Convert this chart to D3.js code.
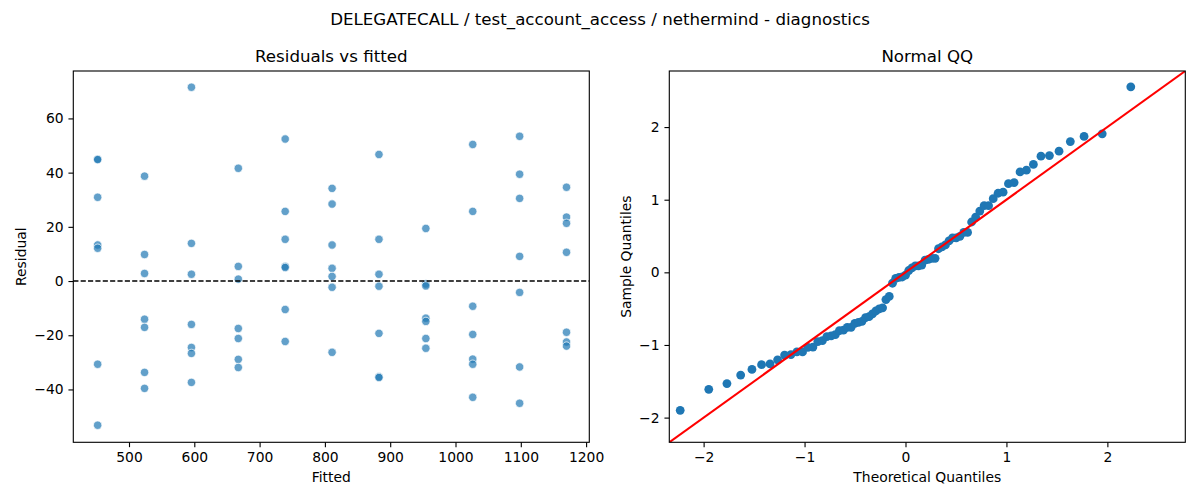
<!DOCTYPE html>
<html>
<head>
<meta charset="utf-8">
<script src="https://cdn.jsdelivr.net/npm/d3@7"></script>
<style>
  html, body { margin: 0; padding: 0; background: #fff; }
  svg { display: block; font-family: "DejaVu Sans", sans-serif; }
</style>
</head>
<body>
<svg id="chart" width="1200" height="500"></svg>
<script>
// ---------------- data ----------------
const suptitle = "DELEGATECALL / test_account_access / nethermind - diagnostics";
const leftTitle = "Residuals vs fitted";
const rightTitle = "Normal QQ";

const fittedLevels = [452, 523.8, 595.6, 667.4, 739.2, 811, 882.8, 954.6, 1026.4, 1098.2, 1170];
const residualGroups = [
  [45.0, 44.8, 30.9, 13.3, 12.1, -30.7, -53.2],
  [38.7, 9.8, 2.8, -14.1, -17.1, -33.7, -39.6],
  [71.5, 13.9, 2.5, -16.0, -24.5, -26.7, -37.4],
  [41.6, 5.4, 0.7, -17.5, -21.2, -28.9, -31.9],
  [52.4, 25.7, 15.4, 5.4, 5.0, -10.5, -22.3],
  [34.2, 28.4, 13.3, 4.7, 1.7, -2.3, -26.3],
  [46.7, 15.4, 2.5, -1.9, -19.3, -35.3, -35.6],
  [19.4, -1.1, -1.8, -13.7, -14.9, -21.2, -24.8],
  [50.4, 25.7, -9.3, -19.7, -28.8, -30.7, -42.9],
  [53.4, 39.4, 30.5, 9.1, -4.2, -31.7, -45.1],
  [34.6, 23.6, 21.3, 10.6, -18.9, -22.5, -24.0]
];
const fittedTicks = [500, 600, 700, 800, 900, 1000, 1100, 1200];
const residualTicks = [-40, -20, 0, 20, 40, 60];

const qqTheoretical = [
  -2.232, -1.949, -1.769, -1.633, -1.521, -1.426, -1.342, -1.267, -1.198, -1.135,
  -1.076, -1.020, -0.967, -0.917, -0.869, -0.823, -0.779, -0.736, -0.695, -0.655,
  -0.615, -0.577, -0.539, -0.502, -0.466, -0.431, -0.396, -0.361, -0.327, -0.293,
  -0.260, -0.227, -0.194, -0.161, -0.129, -0.097, -0.064, -0.032, 0.000,
  0.032, 0.064, 0.097, 0.129, 0.161, 0.194, 0.227, 0.260, 0.293, 0.327,
  0.361, 0.396, 0.431, 0.466, 0.502, 0.539, 0.577, 0.615, 0.655, 0.695,
  0.736, 0.779, 0.823, 0.869, 0.917, 0.967, 1.020, 1.076, 1.135, 1.198,
  1.267, 1.342, 1.426, 1.521, 1.633, 1.769, 1.949, 2.232
];
const qqSample = [
  -1.900, -1.611, -1.532, -1.414, -1.336, -1.271, -1.261, -1.204, -1.139, -1.132,
  -1.096, -1.096, -1.032, -1.029, -0.954, -0.939, -0.886, -0.875, -0.857, -0.804,
  -0.796, -0.757, -0.757, -0.704, -0.689, -0.675, -0.625, -0.611, -0.571, -0.532,
  -0.504, -0.489, -0.375, -0.332, -0.150, -0.082, -0.068, -0.064, -0.039,
  0.025, 0.061, 0.089, 0.089, 0.100, 0.168, 0.179, 0.193, 0.193, 0.325,
  0.350, 0.379, 0.432, 0.475, 0.475, 0.496, 0.550, 0.550, 0.693, 0.761,
  0.843, 0.918, 0.918, 1.014, 1.089, 1.104, 1.221, 1.236, 1.382, 1.407,
  1.486, 1.600, 1.607, 1.668, 1.800, 1.871, 1.907, 2.554
];
const qqTicks = [-2, -1, 0, 1, 2];
const qqDomain = [-2.34, 2.772];

// ---------------- layout ----------------
const svg = d3.select("#chart");
const fmt = v => (v < 0 ? "\u2212" + Math.abs(v) : String(v));
const axTop = 71, axBottom = 442.3;
const L = { x0: 73.3, x1: 589.3 };
const R = { x0: 669.3, x1: 1185.3 };
const tickLen = 4.86, tickPad = 4.86;
const fsTitle = 16.67, fsTick = 13.89;

svg.append("text")
  .attr("x", 600).attr("y", 25)
  .attr("text-anchor", "middle")
  .attr("font-size", fsTitle).attr("fill", "#000")
  .text(suptitle);

function drawAxes(g, x, y, xTicks, yTicks, box, title, xLabel, yLabel, yLabelX) {
  g.append("rect")
    .attr("x", box.x0).attr("y", axTop)
    .attr("width", box.x1 - box.x0).attr("height", axBottom - axTop)
    .attr("fill", "none").attr("stroke", "#000").attr("stroke-width", 1.11);
  const xt = g.append("g").attr("transform", `translate(0,${axBottom})`)
    .call(d3.axisBottom(x).tickValues(xTicks).tickFormat(fmt).tickSizeOuter(0)
      .tickSize(tickLen).tickPadding(tickPad));
  xt.select(".domain").remove();
  xt.selectAll("line").attr("stroke", "#000").attr("stroke-width", 1.11);
  xt.selectAll("text").attr("font-size", fsTick).attr("fill", "#000")
    .attr("font-family", "DejaVu Sans, sans-serif");
  const yt = g.append("g").attr("transform", `translate(${box.x0},0)`)
    .call(d3.axisLeft(y).tickValues(yTicks).tickFormat(fmt).tickSizeOuter(0)
      .tickSize(tickLen).tickPadding(tickPad));
  yt.select(".domain").remove();
  yt.selectAll("line").attr("stroke", "#000").attr("stroke-width", 1.11);
  yt.selectAll("text").attr("font-size", fsTick).attr("fill", "#000")
    .attr("font-family", "DejaVu Sans, sans-serif");
  g.append("text")
    .attr("x", (box.x0 + box.x1) / 2).attr("y", 62)
    .attr("text-anchor", "middle").attr("font-size", fsTitle).attr("fill", "#000")
    .text(title);
  g.append("text")
    .attr("x", (box.x0 + box.x1) / 2).attr("y", 482)
    .attr("text-anchor", "middle").attr("font-size", fsTick).attr("fill", "#000")
    .text(xLabel);
  g.append("text")
    .attr("transform", `translate(${yLabelX},${(axTop + axBottom) / 2}) rotate(-90)`)
    .attr("text-anchor", "middle").attr("font-size", fsTick).attr("fill", "#000")
    .text(yLabel);
}

// ---------------- left: residuals vs fitted ----------------
const xL = d3.scaleLinear().domain([414.7, 1204.9]).range([L.x0, L.x1]);
const yL = d3.scaleLinear().domain([-59.5, 77.5]).range([axBottom, axTop]);
const gL = svg.append("g");

const points = [];
fittedLevels.forEach((f, i) => residualGroups[i].forEach(r => points.push({ f, r })));

svg.append("clipPath").attr("id", "clipL")
  .append("rect").attr("x", L.x0).attr("y", axTop)
  .attr("width", L.x1 - L.x0).attr("height", axBottom - axTop);

gL.append("g").attr("clip-path", "url(#clipL)")
  .selectAll("circle").data(points).join("circle")
  .attr("cx", d => xL(d.f)).attr("cy", d => yL(d.r))
  .attr("r", 4.2)
  .attr("fill", "#1f77b4").attr("fill-opacity", 0.7)
  .attr("stroke", "#fff").attr("stroke-opacity", 0.7).attr("stroke-width", 1);

gL.append("line")
  .attr("x1", L.x0).attr("x2", L.x1)
  .attr("y1", yL(0)).attr("y2", yL(0))
  .attr("stroke", "#000").attr("stroke-width", 1.39)
  .attr("stroke-dasharray", "5.14,2.22");

drawAxes(gL, xL, yL, fittedTicks, residualTicks, L, leftTitle, "Fitted", "Residual", 26);

// ---------------- right: normal QQ ----------------
const xR = d3.scaleLinear().domain(qqDomain).range([R.x0, R.x1]);
const yR = d3.scaleLinear().domain(qqDomain).range([axBottom, axTop]);
const gR = svg.append("g");

svg.append("clipPath").attr("id", "clipR")
  .append("rect").attr("x", R.x0).attr("y", axTop)
  .attr("width", R.x1 - R.x0).attr("height", axBottom - axTop);

const qq = qqTheoretical.map((t, i) => ({ t, s: qqSample[i] }));
const gRc = gR.append("g").attr("clip-path", "url(#clipR)");
gRc.selectAll("circle").data(qq).join("circle")
  .attr("cx", d => xR(d.t)).attr("cy", d => yR(d.s))
  .attr("r", 4.4)
  .attr("fill", "#1f77b4");

gRc.append("line")
  .attr("x1", xR(qqDomain[0])).attr("y1", yR(qqDomain[0]))
  .attr("x2", xR(qqDomain[1])).attr("y2", yR(qqDomain[1]))
  .attr("stroke", "#ff0000").attr("stroke-width", 2.08);

drawAxes(gR, xR, yR, qqTicks, qqTicks, R, rightTitle, "Theoretical Quantiles", "Sample Quantiles", 631);
</script>
</body>
</html>
